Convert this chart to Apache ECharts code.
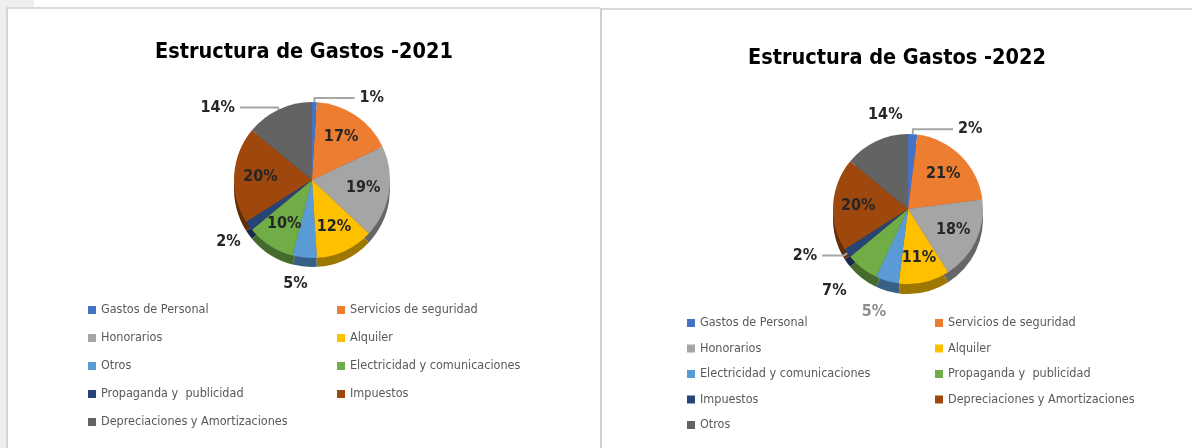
<!DOCTYPE html>
<html>
<head>
<meta charset="utf-8">
<script src="https://cdn.jsdelivr.net/npm/echarts@6/dist/echarts.min.js"></script>
<style>
  html, body { margin:0; padding:0; width:1192px; height:448px; background:#ffffff; overflow:hidden; }
  .strip { position:absolute; background:#eef0f0; }
  .panel { position:absolute; box-sizing:border-box; background:#ffffff; }
  #p1 { left:6px; top:7px; width:594px; height:441px; border-left:2px solid #d4d4d4; border-top:2px solid #dadada; }
  #p2 { left:600px; top:8px; width:592px; height:440px; border-left:2px solid #cfcfcf; border-top:2px solid #d9d9d9; }
  .chart { position:absolute; left:0; top:0; width:100%; height:100%; }
</style>
</head>
<body>
<div class="strip" style="left:0;top:0;width:6px;height:448px;"></div>
<div class="strip" style="left:0;top:0;width:34px;height:7px;"></div>
<div class="panel" id="p1"><div class="chart" id="c1"></div></div>
<div class="panel" id="p2"><div class="chart" id="c2"></div></div>
<script>
// ---- data ----
const title2021 = 'Estructura de Gastos -2021';
const categories2021 = ['Gastos de Personal','Servicios de seguridad','Honorarios','Alquiler','Otros','Electricidad y comunicaciones','Propaganda y  publicidad','Impuestos','Depreciaciones y Amortizaciones'];
const values2021 = [1, 17, 19, 12, 5, 10, 2, 20, 14];

const title2022 = 'Estructura de Gastos -2022';
const categories2022 = ['Gastos de Personal','Servicios de seguridad','Honorarios','Alquiler','Electricidad y comunicaciones','Propaganda y  publicidad','Impuestos','Depreciaciones y Amortizaciones','Otros'];
const values2022 = [2, 21, 18, 11, 5, 7, 2, 20, 14];

// ---- styling ----
const palette = ['#4472C4','#ED7D31','#A5A5A5','#FFC000','#5B9BD5','#70AD47','#264478','#9E480E','#636363'];
const FONT = "'Liberation Sans Narrow', 'DejaVu Sans Condensed', 'Arial Narrow', sans-serif";

function darken(hex, f) {
  const n = parseInt(hex.slice(1), 16);
  const r = Math.round(((n >> 16) & 255) * f), g = Math.round(((n >> 8) & 255) * f), b = Math.round((n & 255) * f);
  return 'rgb(' + r + ',' + g + ',' + b + ')';
}

function buildOption(cfg) {
  const labelBase = { fontFamily: FONT, fontWeight: 'bold', fontSize: 16, color: '#262626', formatter: '{c}%' };
  const mainData = cfg.categories.map((name, i) => {
    const o = cfg.outside[i];
    const item = { name: name, value: cfg.values[i], itemStyle: { color: palette[i] } };
    if (o) {
      item.label = Object.assign({}, labelBase, { show: true, position: 'outside', color: o.color || '#262626' });
      item.labelLine = { show: !!o.line, length: o.l1, length2: o.l2, lineStyle: { color: '#a6a6a6', width: 2 } };
    } else {
      item.label = { show: false };
      item.labelLine = { show: false };
    }
    return item;
  });
  const sideData = cfg.categories.map((name, i) => ({ name: name, value: cfg.values[i], itemStyle: { color: darken(palette[i], 0.62) } }));
  const ringData = cfg.categories.map((name, i) => ({
    name: name, value: cfg.values[i],
    label: cfg.outside[i] ? { show: false } : Object.assign({}, labelBase, { show: true, position: 'inside' })
  }));
  const cx = cfg.center[0], cy = cfg.center[1], R = cfg.R;
  const legendCommon = {
    orient: 'vertical', itemWidth: 8, itemHeight: 8, icon: 'rect', selectedMode: false,
    itemGap: cfg.legendGap, padding: 0,
    textStyle: { fontFamily: FONT, fontSize: 12.5, color: '#595959', lineHeight: 16 }
  };
  const col1 = cfg.categories.filter((_, i) => i % 2 === 0);
  const col2 = cfg.categories.filter((_, i) => i % 2 === 1);
  return {
    animation: false,
    title: { text: cfg.title, left: 'center', top: cfg.titleTop,
      textStyle: { fontFamily: FONT, fontWeight: 'bold', fontSize: 21.5, color: '#000000' } },
    legend: [
      Object.assign({}, legendCommon, { left: cfg.legendX[0], top: cfg.legendTop, data: col1 }),
      Object.assign({}, legendCommon, { left: cfg.legendX[1], top: cfg.legendTop, data: col2 })
    ],
    series: [
      { type: 'pie', name: 'main', z: 3, startAngle: 90, clockwise: true, center: [cx, cy], radius: [0, R],
        data: mainData, silent: true, avoidLabelOverlap: false, itemStyle: { borderWidth: 0 },
        labelLayout: function (p) {
          const n = cfg.nudge[p.dataIndex];
          return n ? { dx: n[0], dy: n[1] } : {};
        } },
      { type: 'pie', name: 'side', z: 1, startAngle: 90, clockwise: true, center: [cx, cy + cfg.depth], radius: [0, R],
        data: sideData, silent: true, label: { show: false }, labelLine: { show: false }, itemStyle: { borderWidth: 0 } },
      { type: 'pie', name: 'ring', z: 4, startAngle: 90, clockwise: true, center: [cx, cy], radius: [R * 0.25, R],
        data: ringData, silent: true, avoidLabelOverlap: false, labelLine: { show: false },
        itemStyle: { color: 'rgba(0,0,0,0)', borderWidth: 0 } }
    ]
  };
}

const c1 = echarts.init(document.getElementById('c1'));
c1.setOption(buildOption({
  title: title2021, categories: categories2021, values: values2021,
  center: [304, 171], R: 78, depth: 9, titleTop: 27,
  legendX: [80, 329], legendTop: 293, legendGap: 12,
  outside: {
    0: { line: true, l1: 4, l2: 40 },
    4: { line: false, l1: 20, l2: 0 },
    6: { line: false, l1: 14, l2: 4 },
    8: { line: true, l1: 2, l2: 38 }
  },
  nudge: { 4: [10, 6], 6: [12, 8] }
}));

const c2 = echarts.init(document.getElementById('c2'));
c2.setOption(buildOption({
  title: title2022, categories: categories2022, values: values2022,
  center: [306, 199], R: 75, depth: 10, titleTop: 32,
  legendX: [85, 333], legendTop: 305, legendGap: 9.5,
  outside: {
    0: { line: true, l1: 5, l2: 40 },
    4: { line: false, l1: 28, l2: 0, color: '#8c8c8c' },
    5: { line: false, l1: 22, l2: 0 },
    6: { line: true, l1: 4, l2: 22 },
    8: { line: false, l1: 20, l2: 0 }
  },
  nudge: { 4: [12, 4], 5: [3, 5], 8: [40, -8] }
}));
</script>
</body>
</html>
